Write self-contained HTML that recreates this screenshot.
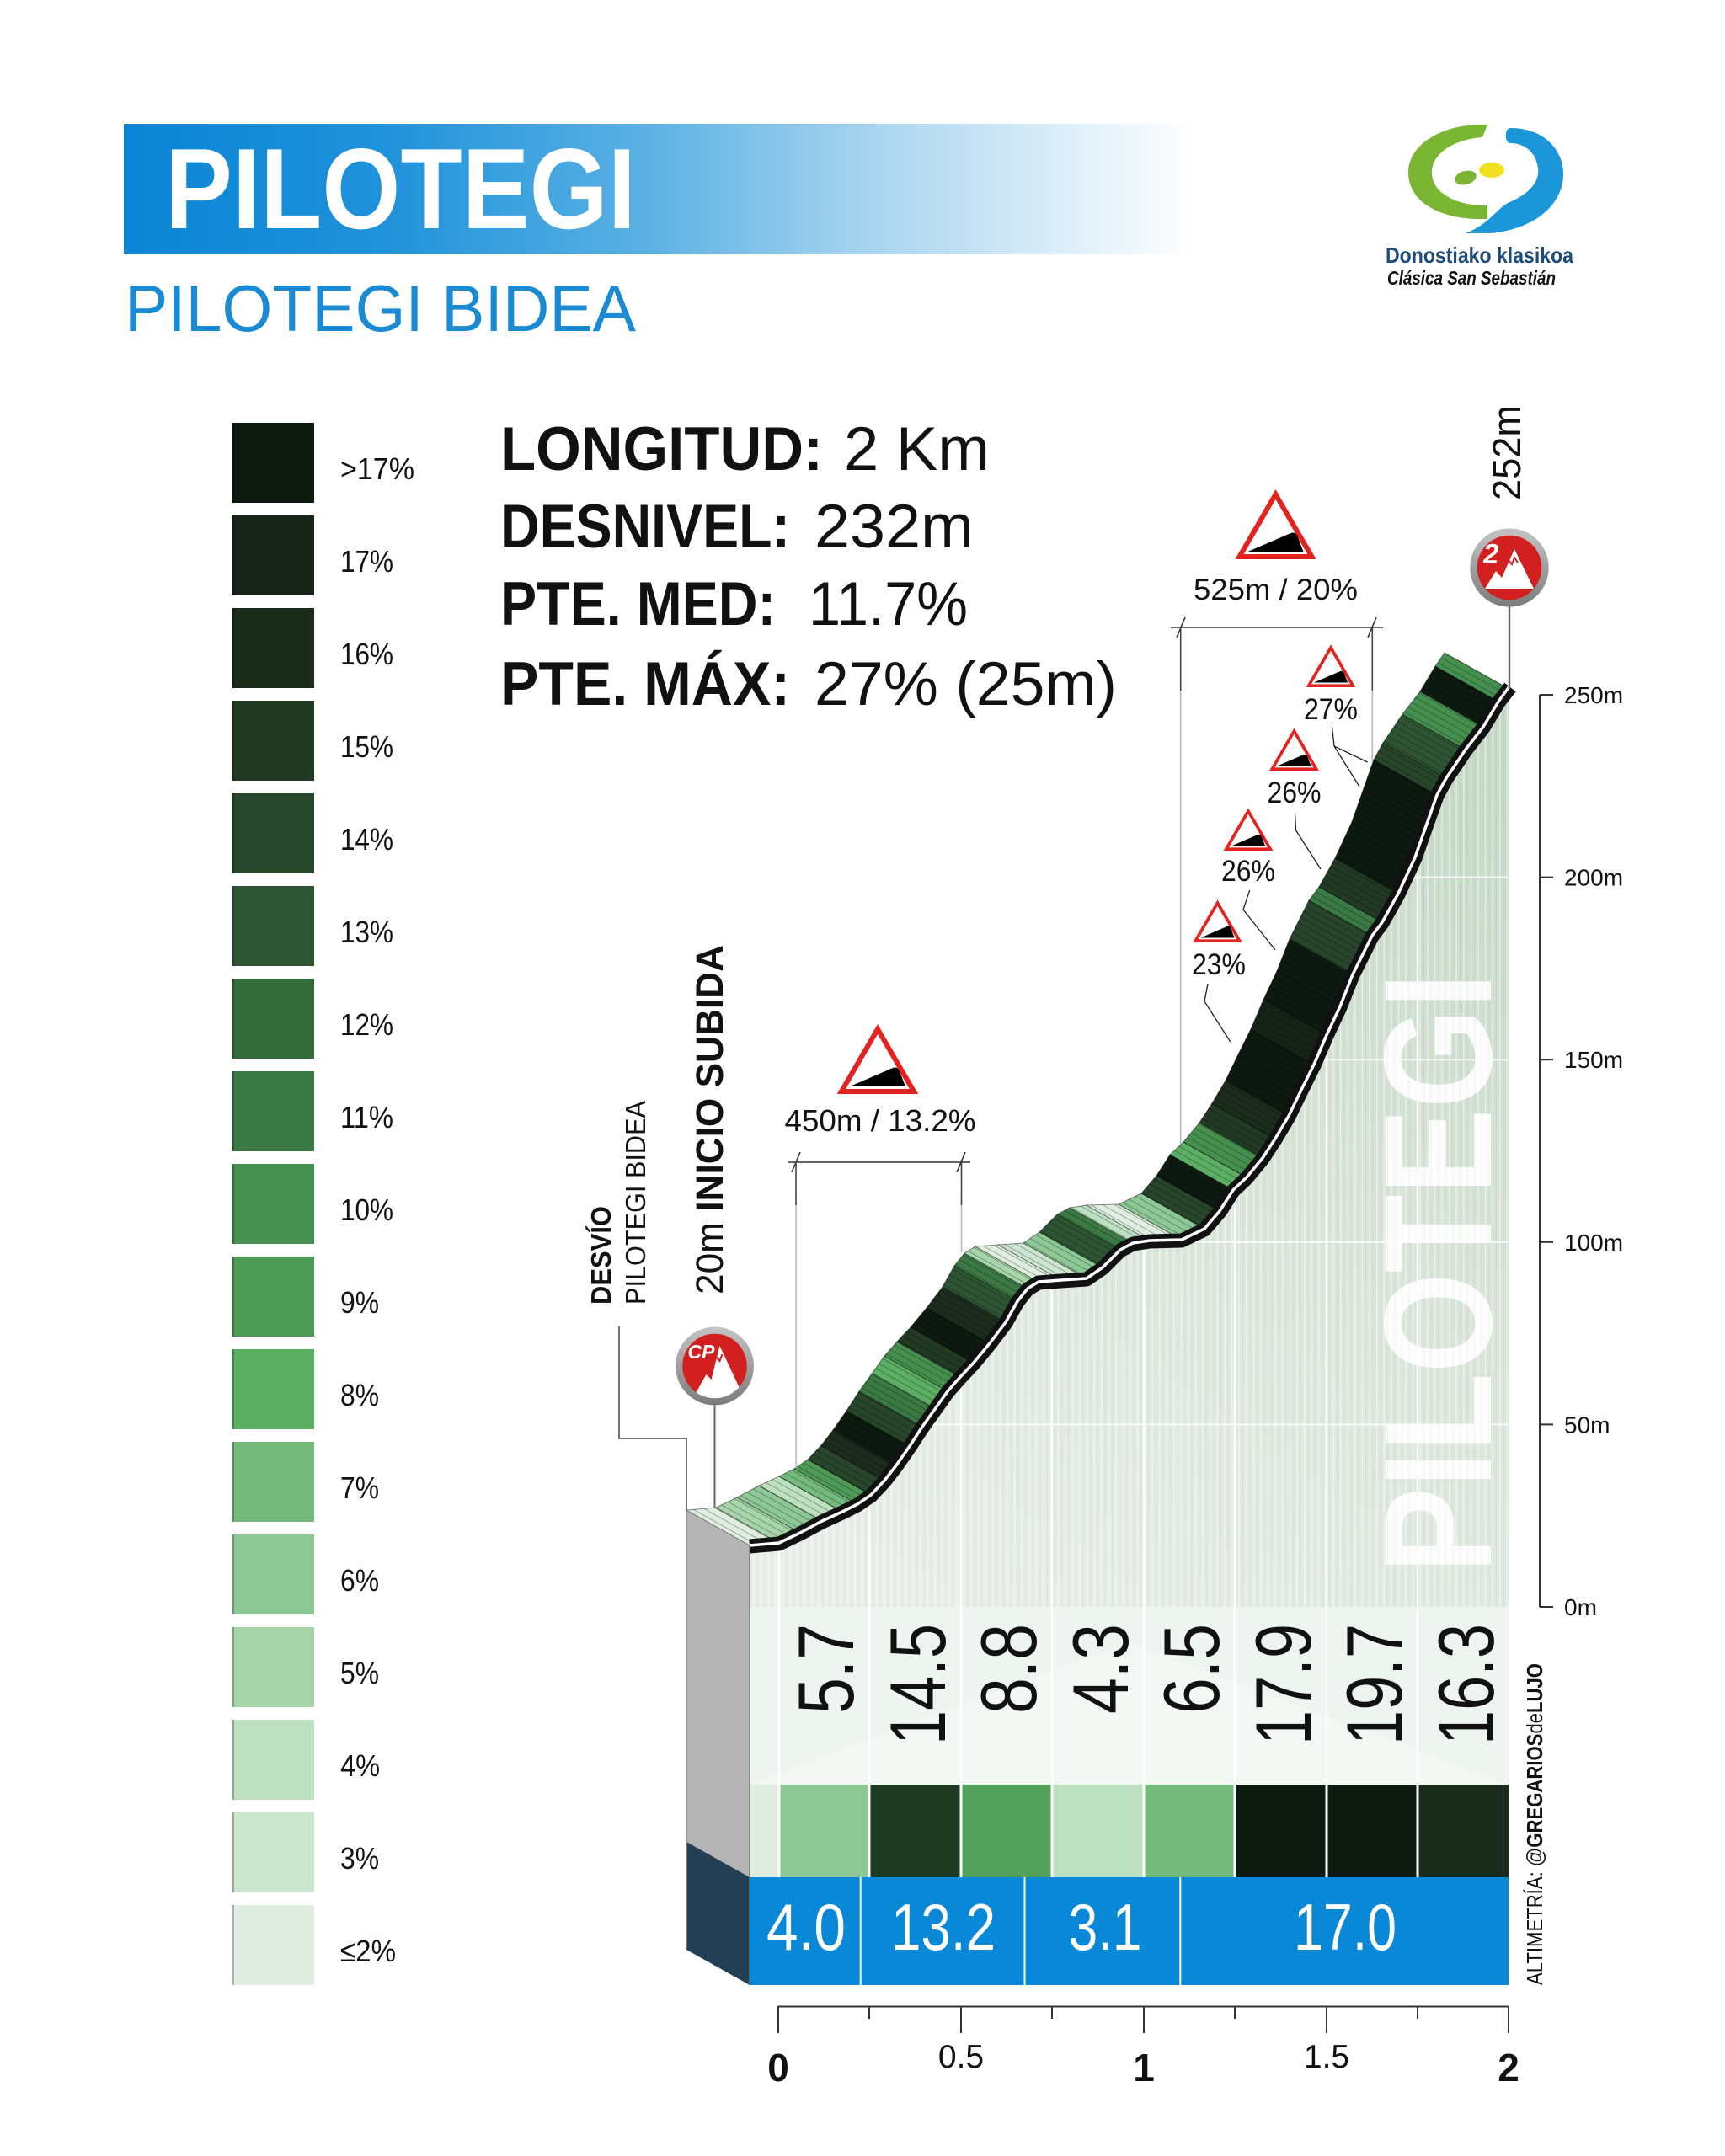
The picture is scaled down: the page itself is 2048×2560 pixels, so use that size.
<!DOCTYPE html>
<html><head><meta charset="utf-8"><title>Pilotegi</title>
<style>html,body{margin:0;padding:0;background:#fff;}svg{display:block;}text{font-family:"Liberation Sans",sans-serif;}</style>
</head><body>
<svg width="2048" height="2560" viewBox="0 0 2048 2560" xmlns="http://www.w3.org/2000/svg">
<defs>
<linearGradient id="titleg" x1="147" y1="0" x2="1420" y2="0" gradientUnits="userSpaceOnUse">
<stop offset="0" stop-color="#0a85d5"/><stop offset="0.24" stop-color="#1f92da"/><stop offset="0.48" stop-color="#58b0e4"/><stop offset="0.70" stop-color="#a9d5f0"/><stop offset="1" stop-color="#ffffff"/>
</linearGradient>
<linearGradient id="fillg" gradientUnits="userSpaceOnUse" x1="1100" y1="1908" x2="1791" y2="900">
<stop offset="0" stop-color="#e8efe8"/><stop offset="0.5" stop-color="#dbe6db"/><stop offset="1" stop-color="#c5d9c6"/>
</linearGradient>
<linearGradient id="ringg" x1="0" y1="0" x2="0" y2="1">
<stop offset="0" stop-color="#c4c4c4"/><stop offset="1" stop-color="#7c7c7c"/>
</linearGradient>
<pattern id="vstripe" width="8.6" height="20" patternUnits="userSpaceOnUse">
<rect x="0" y="0" width="1.2" height="20" fill="rgba(255,255,255,0.55)"/>
<rect x="4.3" y="0" width="1" height="20" fill="rgba(90,120,90,0.07)"/>
</pattern>
<pattern id="hatch" width="7" height="20" patternUnits="userSpaceOnUse" patternTransform="rotate(-60.75)">
<rect x="0" y="0" width="1" height="20" fill="rgba(0,0,0,0.3)"/>
</pattern>
<clipPath id="fillclip">
<polygon points="890,1835 925,1832 950,1820 976,1806 1000,1795 1018,1786 1034,1775 1050,1758 1064,1740 1080,1717 1095,1694 1110,1673 1125,1652 1140,1635 1156,1618 1175,1595 1194,1570 1208,1545 1220,1530 1233,1522 1260,1520 1290,1518 1309,1505 1330,1484 1345,1476 1365,1473 1403,1472 1430,1459 1448,1438 1464,1413 1480,1398 1499,1375 1514,1352 1530,1325 1545,1294 1560,1264 1575,1229 1591,1195 1606,1157 1629,1111 1641,1095 1660,1061 1680,1018 1694,978 1706,944 1717,924 1740,890 1761,863 1779,833 1790,817 1791,817 1791,2119 890,2119"/>
</clipPath>
<clipPath id="iconclip"><circle cx="0" cy="0" r="38.3"/></clipPath>
<g id="bigtri">
<polygon points="0,5 43,79 -43,79" fill="#fff" stroke="#e2231f" stroke-width="6"/>
<path d="M-33,73 L18,51 Q24,49 26,55 L33,73 Z" fill="#000"/>
</g>
</defs>

<!-- Title -->
<rect x="147" y="147" width="1273" height="155" fill="url(#titleg)"/>
<text x="196" y="271" font-size="136" font-weight="bold" fill="#fff" textLength="559" lengthAdjust="spacingAndGlyphs">PILOTEGI</text>
<text x="148" y="393" font-size="78" fill="#1a8ad4" textLength="607" lengthAdjust="spacingAndGlyphs">PILOTEGI BIDEA</text>

<!-- Logo -->
<path d="M1766,148 C1715,146 1672,170 1672,205 C1672,240 1710,262 1766,260 L1766,244 C1735,245 1700,232 1700,205 C1700,180 1730,165 1760,163 Z" fill="#7ab534"/>
<ellipse cx="1740" cy="211" rx="13" ry="8" fill="#7ab534" transform="rotate(-15 1740 211)"/>
<ellipse cx="1771" cy="202" rx="15" ry="9" fill="#f0e020"/>
<path d="M1793,152 C1835,152 1857,180 1856,208 C1855,245 1820,272 1770,277 L1740,277 C1768,266 1775,250 1790,241 C1815,231 1828,216 1826,200 C1824,181 1810,170 1793,170 C1786,170 1786,152 1793,152 Z" fill="#1a96d9"/>
<text x="1645" y="312" font-size="26" font-weight="bold" fill="#1e4c7a" textLength="223" lengthAdjust="spacingAndGlyphs">Donostiako klasikoa</text>
<text x="1647" y="338" font-size="23" font-weight="bold" font-style="italic" fill="#111" textLength="200" lengthAdjust="spacingAndGlyphs">Clásica San Sebastián</text>

<!-- Legend -->
<g>
<rect x="276" y="502" width="97" height="95" fill="#0c1a0f"/>
<rect x="276" y="612" width="97" height="95" fill="#162418"/>
<rect x="276" y="722" width="97" height="95" fill="#1b2c1d"/>
<rect x="276" y="832" width="97" height="95" fill="#223924"/>
<rect x="276" y="942" width="97" height="95" fill="#27462b"/>
<rect x="276" y="1052" width="97" height="95" fill="#2d5533"/>
<rect x="276" y="1162" width="97" height="95" fill="#346b3b"/>
<rect x="276" y="1272" width="97" height="95" fill="#3b7a44"/>
<rect x="276" y="1382" width="97" height="95" fill="#46904f"/>
<rect x="276" y="1492" width="97" height="95" fill="#4e9b57"/>
<rect x="276" y="1602" width="97" height="95" fill="#5cae64"/>
<rect x="276" y="1712" width="97" height="95" fill="#74ba7c"/>
<rect x="276" y="1822" width="97" height="95" fill="#8dc795"/>
<rect x="276" y="1932" width="97" height="95" fill="#a6d5aa"/>
<rect x="276" y="2042" width="97" height="95" fill="#bde0c1"/>
<rect x="276" y="2152" width="97" height="95" fill="#cde6cf"/>
<rect x="276" y="2262" width="97" height="95" fill="#dfeee1"/>
</g>
<g fill="rgba(0,0,0,0.25)">
<rect x="276" y="502" width="2" height="95"/><rect x="276" y="612" width="2" height="95"/><rect x="276" y="722" width="2" height="95"/><rect x="276" y="832" width="2" height="95"/><rect x="276" y="942" width="2" height="95"/><rect x="276" y="1052" width="2" height="95"/><rect x="276" y="1162" width="2" height="95"/><rect x="276" y="1272" width="2" height="95"/><rect x="276" y="1382" width="2" height="95"/><rect x="276" y="1492" width="2" height="95"/><rect x="276" y="1602" width="2" height="95"/><rect x="276" y="1712" width="2" height="95"/><rect x="276" y="1822" width="2" height="95"/><rect x="276" y="1932" width="2" height="95"/><rect x="276" y="2042" width="2" height="95"/><rect x="276" y="2152" width="2" height="95"/><rect x="276" y="2262" width="2" height="95"/>
</g>
<g font-size="36" fill="#111">
<text x="404" y="569" textLength="88" lengthAdjust="spacingAndGlyphs">&gt;17%</text>
<text x="404" y="679" textLength="63" lengthAdjust="spacingAndGlyphs">17%</text>
<text x="404" y="789" textLength="63" lengthAdjust="spacingAndGlyphs">16%</text>
<text x="404" y="899" textLength="63" lengthAdjust="spacingAndGlyphs">15%</text>
<text x="404" y="1009" textLength="63" lengthAdjust="spacingAndGlyphs">14%</text>
<text x="404" y="1119" textLength="63" lengthAdjust="spacingAndGlyphs">13%</text>
<text x="404" y="1229" textLength="63" lengthAdjust="spacingAndGlyphs">12%</text>
<text x="404" y="1339" textLength="63" lengthAdjust="spacingAndGlyphs">11%</text>
<text x="404" y="1449" textLength="63" lengthAdjust="spacingAndGlyphs">10%</text>
<text x="404" y="1559" textLength="46" lengthAdjust="spacingAndGlyphs">9%</text>
<text x="404" y="1669" textLength="46" lengthAdjust="spacingAndGlyphs">8%</text>
<text x="404" y="1779" textLength="46" lengthAdjust="spacingAndGlyphs">7%</text>
<text x="404" y="1889" textLength="46" lengthAdjust="spacingAndGlyphs">6%</text>
<text x="404" y="1999" textLength="46" lengthAdjust="spacingAndGlyphs">5%</text>
<text x="404" y="2109" textLength="47" lengthAdjust="spacingAndGlyphs">4%</text>
<text x="404" y="2219" textLength="46" lengthAdjust="spacingAndGlyphs">3%</text>
<text x="404" y="2329" textLength="66" lengthAdjust="spacingAndGlyphs">≤2%</text>
</g>

<!-- Stats -->
<g font-size="73" fill="#111">
<text x="594" y="558" font-weight="bold" textLength="383" lengthAdjust="spacingAndGlyphs">LONGITUD:</text>
<text x="1002" y="558" textLength="173" lengthAdjust="spacingAndGlyphs">2 Km</text>
<text x="594" y="650" font-weight="bold" textLength="344" lengthAdjust="spacingAndGlyphs">DESNIVEL:</text>
<text x="967" y="650" textLength="189" lengthAdjust="spacingAndGlyphs">232m</text>
<text x="594" y="742" font-weight="bold" textLength="327" lengthAdjust="spacingAndGlyphs">PTE. MED:</text>
<text x="960" y="742" textLength="189" lengthAdjust="spacingAndGlyphs">11.7%</text>
<text x="594" y="837" font-weight="bold" textLength="344" lengthAdjust="spacingAndGlyphs">PTE. MÁX:</text>
<text x="967" y="837" textLength="359" lengthAdjust="spacingAndGlyphs">27% (25m)</text>
</g>

<!-- Left 3D side -->
<polygon points="815,1793 890,1835 890,2229 815,2187" fill="#b5b5b5"/>
<polygon points="815,2187 890,2229 890,2357 815,2315" fill="#223f56"/>
<line x1="815" y1="1793" x2="815" y2="2315" stroke="#888" stroke-width="1.5"/>
<line x1="890" y1="1835" x2="890" y2="2357" stroke="#777" stroke-width="1.5"/>

<!-- Front face fill -->
<polygon points="890,1835 925,1832 950,1820 976,1806 1000,1795 1018,1786 1034,1775 1050,1758 1064,1740 1080,1717 1095,1694 1110,1673 1125,1652 1140,1635 1156,1618 1175,1595 1194,1570 1208,1545 1220,1530 1233,1522 1260,1520 1290,1518 1309,1505 1330,1484 1345,1476 1365,1473 1403,1472 1430,1459 1448,1438 1464,1413 1480,1398 1499,1375 1514,1352 1530,1325 1545,1294 1560,1264 1575,1229 1591,1195 1606,1157 1629,1111 1641,1095 1660,1061 1680,1018 1694,978 1706,944 1717,924 1740,890 1761,863 1779,833 1790,817 1791,817 1791,1908 890,1908" fill="url(#fillg)"/>
<rect x="890" y="1908" width="901" height="211" fill="#eef4ef"/>
<polygon points="890,2119 1340,1950 1791,2119" fill="rgba(255,255,255,0.35)"/>
<text transform="translate(1770,1868) rotate(-90)" font-size="182" font-weight="bold" fill="#fff" fill-opacity="0.9" textLength="713" lengthAdjust="spacingAndGlyphs">PILOTEGI</text>
<g clip-path="url(#fillclip)">
<rect x="890" y="800" width="901" height="1108" fill="url(#vstripe)"/>
<g stroke="#fff" stroke-width="2" opacity="0.85">
<line x1="890" y1="1691.4" x2="1791" y2="1691.4"/>
<line x1="890" y1="1474.8" x2="1791" y2="1474.8"/>
<line x1="890" y1="1258.2" x2="1791" y2="1258.2"/>
<line x1="890" y1="1041.6" x2="1791" y2="1041.6"/>
</g>
<g stroke="#fff" stroke-width="2.5">
<line x1="925" y1="800" x2="925" y2="2119"/>
<line x1="1032" y1="800" x2="1032" y2="2119"/>
<line x1="1141" y1="800" x2="1141" y2="2119"/>
<line x1="1249" y1="800" x2="1249" y2="2119"/>
<line x1="1358" y1="800" x2="1358" y2="2119"/>
<line x1="1466" y1="800" x2="1466" y2="2119"/>
<line x1="1575" y1="800" x2="1575" y2="2119"/>
<line x1="1683" y1="800" x2="1683" y2="2119"/>
</g>
</g>

<!-- Gradient numbers -->
<g font-size="94" fill="#111">
<text transform="translate(1013,1928) rotate(-90)" text-anchor="end" textLength="107" lengthAdjust="spacingAndGlyphs">5.7</text>
<text transform="translate(1122,1928) rotate(-90)" text-anchor="end" textLength="144" lengthAdjust="spacingAndGlyphs">14.5</text>
<text transform="translate(1230,1928) rotate(-90)" text-anchor="end" textLength="107" lengthAdjust="spacingAndGlyphs">8.8</text>
<text transform="translate(1339,1928) rotate(-90)" text-anchor="end" textLength="107" lengthAdjust="spacingAndGlyphs">4.3</text>
<text transform="translate(1447,1928) rotate(-90)" text-anchor="end" textLength="107" lengthAdjust="spacingAndGlyphs">6.5</text>
<text transform="translate(1556,1928) rotate(-90)" text-anchor="end" textLength="144" lengthAdjust="spacingAndGlyphs">17.9</text>
<text transform="translate(1664,1928) rotate(-90)" text-anchor="end" textLength="144" lengthAdjust="spacingAndGlyphs">19.7</text>
<text transform="translate(1773,1928) rotate(-90)" text-anchor="end" textLength="144" lengthAdjust="spacingAndGlyphs">16.3</text>
</g>

<!-- Color bar -->
<rect x="890" y="2119" width="35" height="110" fill="#dfeee1"/>
<rect x="925" y="2119" width="107" height="110" fill="#8dc795"/>
<rect x="1032" y="2119" width="109" height="110" fill="#1f3a22"/>
<rect x="1141" y="2119" width="108" height="110" fill="#52a05a"/>
<rect x="1249" y="2119" width="109" height="110" fill="#bde0c1"/>
<rect x="1358" y="2119" width="108" height="110" fill="#74ba7c"/>
<rect x="1466" y="2119" width="109" height="110" fill="#0c1a0f"/>
<rect x="1575" y="2119" width="108" height="110" fill="#0c1a0f"/>
<rect x="1683" y="2119" width="108" height="110" fill="#1b2c1d"/>
<g stroke="#fff" stroke-width="3">
<line x1="925" y1="2119" x2="925" y2="2229"/><line x1="1032" y1="2119" x2="1032" y2="2229"/><line x1="1141" y1="2119" x2="1141" y2="2229"/><line x1="1249" y1="2119" x2="1249" y2="2229"/><line x1="1358" y1="2119" x2="1358" y2="2229"/><line x1="1466" y1="2119" x2="1466" y2="2229"/><line x1="1575" y1="2119" x2="1575" y2="2229"/><line x1="1683" y1="2119" x2="1683" y2="2229"/>
</g>

<!-- Blue bar -->
<rect x="890" y="2229" width="901" height="128" fill="#0a88d8"/>
<g stroke="#fff" stroke-width="2">
<line x1="1021.7" y1="2229" x2="1021.7" y2="2357"/><line x1="1216.5" y1="2229" x2="1216.5" y2="2357"/><line x1="1401.3" y1="2229" x2="1401.3" y2="2357"/>
</g>
<g font-size="78" fill="#fff" text-anchor="middle">
<text x="957" y="2315" textLength="94" lengthAdjust="spacingAndGlyphs">4.0</text>
<text x="1120" y="2315" textLength="124" lengthAdjust="spacingAndGlyphs">13.2</text>
<text x="1312" y="2315" textLength="87" lengthAdjust="spacingAndGlyphs">3.1</text>
<text x="1597" y="2315" textLength="122" lengthAdjust="spacingAndGlyphs">17.0</text>
</g>

<!-- Ribbon -->
<g stroke="rgba(0,0,0,0.45)" stroke-width="1">
<polygon points="890,1835 925,1832 850,1790 815,1793" fill="#dfeee1"/>
<polygon points="925,1832 950,1820 875,1778 850,1790" fill="#a6d5aa"/>
<polygon points="950,1820 976,1806 901,1764 875,1778" fill="#8dc795"/>
<polygon points="976,1806 1000,1795 925,1753 901,1764" fill="#bde0c1"/>
<polygon points="1000,1795 1018,1786 943,1744 925,1753" fill="#74ba7c"/>
<polygon points="1018,1786 1034,1775 959,1733 943,1744" fill="#4e9b57"/>
<polygon points="1034,1775 1050,1758 975,1716 959,1733" fill="#27462b"/>
<polygon points="1050,1758 1064,1740 989,1698 975,1716" fill="#1b2c1d"/>
<polygon points="1064,1740 1080,1717 1005,1675 989,1698" fill="#0c1a0f"/>
<polygon points="1080,1717 1095,1694 1020,1652 1005,1675" fill="#27462b"/>
<polygon points="1095,1694 1110,1673 1035,1631 1020,1652" fill="#3b7a44"/>
<polygon points="1110,1673 1125,1652 1050,1610 1035,1631" fill="#5cae64"/>
<polygon points="1125,1652 1140,1635 1065,1593 1050,1610" fill="#46904f"/>
<polygon points="1140,1635 1156,1618 1081,1576 1065,1593" fill="#223924"/>
<polygon points="1156,1618 1175,1595 1100,1553 1081,1576" fill="#0c1a0f"/>
<polygon points="1175,1595 1194,1570 1119,1528 1100,1553" fill="#1b2c1d"/>
<polygon points="1194,1570 1208,1545 1133,1503 1119,1528" fill="#2d5533"/>
<polygon points="1208,1545 1220,1530 1145,1488 1133,1503" fill="#3b7a44"/>
<polygon points="1220,1530 1233,1522 1158,1480 1145,1488" fill="#a6d5aa"/>
<polygon points="1233,1522 1260,1520 1185,1478 1158,1480" fill="#dfeee1"/>
<polygon points="1260,1520 1290,1518 1215,1476 1185,1478" fill="#cde6cf"/>
<polygon points="1290,1518 1309,1505 1234,1463 1215,1476" fill="#8dc795"/>
<polygon points="1309,1505 1330,1484 1255,1442 1234,1463" fill="#2d5533"/>
<polygon points="1330,1484 1345,1476 1270,1434 1255,1442" fill="#3b7a44"/>
<polygon points="1345,1476 1365,1473 1290,1431 1270,1434" fill="#bde0c1"/>
<polygon points="1365,1473 1403,1472 1328,1430 1290,1431" fill="#dfeee1"/>
<polygon points="1403,1472 1430,1459 1355,1417 1328,1430" fill="#8dc795"/>
<polygon points="1430,1459 1448,1438 1373,1396 1355,1417" fill="#27462b"/>
<polygon points="1448,1438 1464,1413 1389,1371 1373,1396" fill="#0c1a0f"/>
<polygon points="1464,1413 1480,1398 1405,1356 1389,1371" fill="#5cae64"/>
<polygon points="1480,1398 1499,1375 1424,1333 1405,1356" fill="#46904f"/>
<polygon points="1499,1375 1514,1352 1439,1310 1424,1333" fill="#223924"/>
<polygon points="1514,1352 1530,1325 1455,1283 1439,1310" fill="#1b2c1d"/>
<polygon points="1530,1325 1545,1294 1470,1252 1455,1283" fill="#0c1a0f"/>
<polygon points="1545,1294 1560,1264 1485,1222 1470,1252" fill="#0c1a0f"/>
<polygon points="1560,1264 1575,1229 1500,1187 1485,1222" fill="#162418"/>
<polygon points="1575,1229 1591,1195 1516,1153 1500,1187" fill="#0c1a0f"/>
<polygon points="1591,1195 1606,1157 1531,1115 1516,1153" fill="#0c1a0f"/>
<polygon points="1606,1157 1629,1111 1554,1069 1531,1115" fill="#27462b"/>
<polygon points="1629,1111 1641,1095 1566,1053 1554,1069" fill="#3b7a44"/>
<polygon points="1641,1095 1660,1061 1585,1019 1566,1053" fill="#223924"/>
<polygon points="1660,1061 1680,1018 1605,976 1585,1019" fill="#0c1a0f"/>
<polygon points="1680,1018 1694,978 1619,936 1605,976" fill="#0c1a0f"/>
<polygon points="1694,978 1706,944 1631,902 1619,936" fill="#0c1a0f"/>
<polygon points="1706,944 1717,924 1642,882 1631,902" fill="#27462b"/>
<polygon points="1717,924 1740,890 1665,848 1642,882" fill="#2d5533"/>
<polygon points="1740,890 1761,863 1686,821 1665,848" fill="#46904f"/>
<polygon points="1761,863 1779,833 1704,791 1686,821" fill="#0c1a0f"/>
<polygon points="1779,833 1790,817 1715,775 1704,791" fill="#46904f"/>
</g>
<polygon fill="url(#hatch)" points="890,1835 925,1832 950,1820 976,1806 1000,1795 1018,1786 1034,1775 1050,1758 1064,1740 1080,1717 1095,1694 1110,1673 1125,1652 1140,1635 1156,1618 1175,1595 1194,1570 1208,1545 1220,1530 1233,1522 1260,1520 1290,1518 1309,1505 1330,1484 1345,1476 1365,1473 1403,1472 1430,1459 1448,1438 1464,1413 1480,1398 1499,1375 1514,1352 1530,1325 1545,1294 1560,1264 1575,1229 1591,1195 1606,1157 1629,1111 1641,1095 1660,1061 1680,1018 1694,978 1706,944 1717,924 1740,890 1761,863 1779,833 1790,817 1715,775 1704,791 1686,821 1665,848 1642,882 1631,902 1619,936 1605,976 1585,1019 1566,1053 1554,1069 1531,1115 1516,1153 1500,1187 1485,1222 1470,1252 1455,1283 1439,1310 1424,1333 1405,1356 1389,1371 1373,1396 1355,1417 1328,1430 1290,1431 1270,1434 1255,1442 1234,1463 1215,1476 1185,1478 1158,1480 1145,1488 1133,1503 1119,1528 1100,1553 1081,1576 1065,1593 1050,1610 1035,1631 1020,1652 1005,1675 989,1698 975,1716 959,1733 943,1744 925,1753 901,1764 875,1778 850,1790 815,1793"/>

<!-- Road -->
<polyline fill="none" stroke="#111" stroke-width="17" stroke-linejoin="round" points="890,1836 925,1833 950,1821 976,1807 1000,1796 1018,1787 1034,1776 1050,1759 1064,1741 1080,1718 1095,1695 1110,1674 1125,1653 1140,1636 1156,1619 1175,1596 1194,1571 1208,1546 1220,1531 1233,1523 1260,1521 1290,1519 1309,1506 1330,1485 1345,1477 1365,1474 1403,1473 1430,1460 1448,1439 1464,1414 1480,1399 1499,1376 1514,1353 1530,1326 1545,1295 1560,1265 1575,1230 1591,1196 1606,1158 1629,1112 1641,1096 1660,1062 1680,1019 1694,979 1706,945 1717,925 1740,891 1761,864 1779,834 1793,816"/>
<polyline fill="none" stroke="#fff" stroke-width="3.5" stroke-linejoin="round" points="890,1835 925,1832 950,1820 976,1806 1000,1795 1018,1786 1034,1775 1050,1758 1064,1740 1080,1717 1095,1694 1110,1673 1125,1652 1140,1635 1156,1618 1175,1595 1194,1570 1208,1545 1220,1530 1233,1522 1260,1520 1290,1518 1309,1505 1330,1484 1345,1476 1365,1473 1403,1472 1430,1459 1448,1438 1464,1413 1480,1398 1499,1375 1514,1352 1530,1325 1545,1294 1560,1264 1575,1229 1591,1195 1606,1157 1629,1111 1641,1095 1660,1061 1680,1018 1694,978 1706,944 1717,924 1740,890 1761,863 1779,833 1792,815"/>

<!-- X axis -->
<g stroke="#333" stroke-width="2">
<line x1="924" y1="2382.5" x2="1791" y2="2382.5"/>
<line x1="924" y1="2382" x2="924" y2="2414"/><line x1="1141" y1="2382" x2="1141" y2="2414"/><line x1="1358" y1="2382" x2="1358" y2="2414"/><line x1="1575" y1="2382" x2="1575" y2="2414"/><line x1="1791" y1="2382" x2="1791" y2="2414"/>
<line x1="1032" y1="2382" x2="1032" y2="2397"/><line x1="1249" y1="2382" x2="1249" y2="2397"/><line x1="1466" y1="2382" x2="1466" y2="2397"/><line x1="1683" y1="2382" x2="1683" y2="2397"/>
</g>
<g fill="#111" text-anchor="middle">
<text x="924" y="2471" font-size="46" font-weight="bold">0</text>
<text x="1141" y="2455" font-size="39">0.5</text>
<text x="1358" y="2471" font-size="46" font-weight="bold">1</text>
<text x="1575" y="2455" font-size="39">1.5</text>
<text x="1791" y="2471" font-size="46" font-weight="bold">2</text>
</g>

<!-- Right axis -->
<g stroke="#333" stroke-width="2">
<line x1="1828" y1="825" x2="1828" y2="1908"/>
<line x1="1828" y1="825" x2="1844" y2="825"/><line x1="1828" y1="1041.6" x2="1844" y2="1041.6"/><line x1="1828" y1="1258.2" x2="1844" y2="1258.2"/><line x1="1828" y1="1474.8" x2="1844" y2="1474.8"/><line x1="1828" y1="1691.4" x2="1844" y2="1691.4"/><line x1="1828" y1="1908" x2="1844" y2="1908"/>
</g>
<g font-size="28" fill="#111">
<text x="1857" y="835">250m</text>
<text x="1857" y="1051.6">200m</text>
<text x="1857" y="1268.2">150m</text>
<text x="1857" y="1484.8">100m</text>
<text x="1857" y="1701.4">50m</text>
<text x="1857" y="1918">0m</text>
</g>
<text transform="translate(1831,2357) rotate(-90)" font-size="26" fill="#111" textLength="382" lengthAdjust="spacingAndGlyphs">ALTIMETRÍA: @<tspan font-weight="bold">GREGARIOS</tspan>de<tspan font-weight="bold">LUJO</tspan></text>

<!-- KOM marker -->
<line x1="1792" y1="720" x2="1792" y2="818" stroke="#666" stroke-width="2.5"/>
<text transform="translate(1805,594) rotate(-90)" font-size="47" fill="#111" textLength="113" lengthAdjust="spacingAndGlyphs">252m</text>
<g transform="translate(1792,674)">
<circle r="46.7" fill="url(#ringg)"/>
<circle r="38.3" fill="#d21f1f"/>
<g clip-path="url(#iconclip)">
<polygon points="-29,25 -16,4 -9,12 6,-22 29,25" fill="#fff"/>
</g>
<path d="M-2,-10 L3,-4 L6,-12 L10,-6" fill="none" stroke="#d21f1f" stroke-width="2"/>
<text x="-31" y="-5" font-size="33" font-weight="bold" font-style="italic" fill="#fff">2</text>
</g>

<!-- CP marker -->
<line x1="848.5" y1="1668" x2="848.5" y2="1790" stroke="#666" stroke-width="2"/>
<g transform="translate(848.5,1622)">
<circle r="46.5" fill="url(#ringg)"/>
<circle r="38.3" fill="#d21f1f"/>
<g clip-path="url(#iconclip)">
<polygon points="-27,40 -10,10 -4,16 6,-24 36,40" fill="#fff"/>
</g>
<path d="M1,-12 L6,-6 L9,-14" fill="none" stroke="#d21f1f" stroke-width="2"/>
<text x="-32" y="-9" font-size="23" font-weight="bold" font-style="italic" fill="#fff">CP</text>
</g>

<!-- Desvio labels -->
<polyline points="735,1575 735,1708 815,1708 815,1793" fill="none" stroke="#444" stroke-width="1.5"/>
<text transform="translate(725,1549) rotate(-90)" font-size="33" font-weight="bold" fill="#111" textLength="117" lengthAdjust="spacingAndGlyphs">DESVÍO</text>
<text transform="translate(766,1549) rotate(-90)" font-size="33" fill="#111" textLength="242" lengthAdjust="spacingAndGlyphs">PILOTEGI BIDEA</text>
<text transform="translate(858,1537) rotate(-90)" font-size="45" fill="#111" textLength="415" lengthAdjust="spacingAndGlyphs">20m <tspan font-weight="bold">INICIO SUBIDA</tspan></text>

<!-- Bracket 450m -->
<g stroke-width="1.6">
<line x1="936" y1="1380" x2="1152" y2="1380" stroke="#333"/>
<line x1="940" y1="1392" x2="950" y2="1368" stroke="#333"/>
<line x1="1136" y1="1392" x2="1146" y2="1368" stroke="#333"/>
<line x1="945" y1="1380" x2="945" y2="1431" stroke="#444"/>
<line x1="945" y1="1431" x2="945" y2="1743" stroke="#bbb"/>
<line x1="1141.5" y1="1380" x2="1141.5" y2="1431" stroke="#444"/>
<line x1="1141.5" y1="1431" x2="1141.5" y2="1487" stroke="#bbb"/>
</g>
<use href="#bigtri" transform="translate(1042,1217)"/>
<text x="1045" y="1343" font-size="36" fill="#111" text-anchor="middle" textLength="227" lengthAdjust="spacingAndGlyphs">450m / 13.2%</text>

<!-- Bracket 525m -->
<g stroke-width="1.6">
<line x1="1390" y1="745" x2="1642" y2="745" stroke="#333"/>
<line x1="1397" y1="757" x2="1407" y2="733" stroke="#333"/>
<line x1="1624" y1="757" x2="1634" y2="733" stroke="#333"/>
<line x1="1401.7" y1="745" x2="1401.7" y2="820" stroke="#444"/>
<line x1="1401.7" y1="820" x2="1401.7" y2="1358" stroke="#bbb"/>
<line x1="1629.3" y1="745" x2="1629.3" y2="820" stroke="#444"/>
<line x1="1629.3" y1="820" x2="1629.3" y2="905" stroke="#bbb"/>
</g>
<use href="#bigtri" transform="translate(1514.5,582)"/>
<text x="1514.5" y="712" font-size="35" fill="#111" text-anchor="middle" textLength="195" lengthAdjust="spacingAndGlyphs">525m / 20%</text>

<!-- Small gradient signs -->
<use href="#bigtri" transform="translate(1580,766) scale(0.61)"/>
<use href="#bigtri" transform="translate(1536.5,865) scale(0.61)"/>
<use href="#bigtri" transform="translate(1482,960) scale(0.61)"/>
<use href="#bigtri" transform="translate(1445.5,1069) scale(0.61)"/>
<g font-size="35" fill="#111" text-anchor="middle">
<text x="1580" y="854" textLength="64" lengthAdjust="spacingAndGlyphs">27%</text>
<text x="1536.5" y="953" textLength="64" lengthAdjust="spacingAndGlyphs">26%</text>
<text x="1482" y="1046" textLength="64" lengthAdjust="spacingAndGlyphs">26%</text>
<text x="1447" y="1157" textLength="64" lengthAdjust="spacingAndGlyphs">23%</text>
</g>
<g fill="none" stroke="#222" stroke-width="1.3">
<polyline points="1581.5,863 1584,886 1623.6,905"/>
<polyline points="1584,886 1614,934"/>
<polyline points="1537.5,965 1538.6,986 1568,1032"/>
<polyline points="1483.7,1057 1476,1080 1514,1128"/>
<polyline points="1434,1168 1430,1189 1460.7,1237"/>
</g>
</svg>
</body></html>
